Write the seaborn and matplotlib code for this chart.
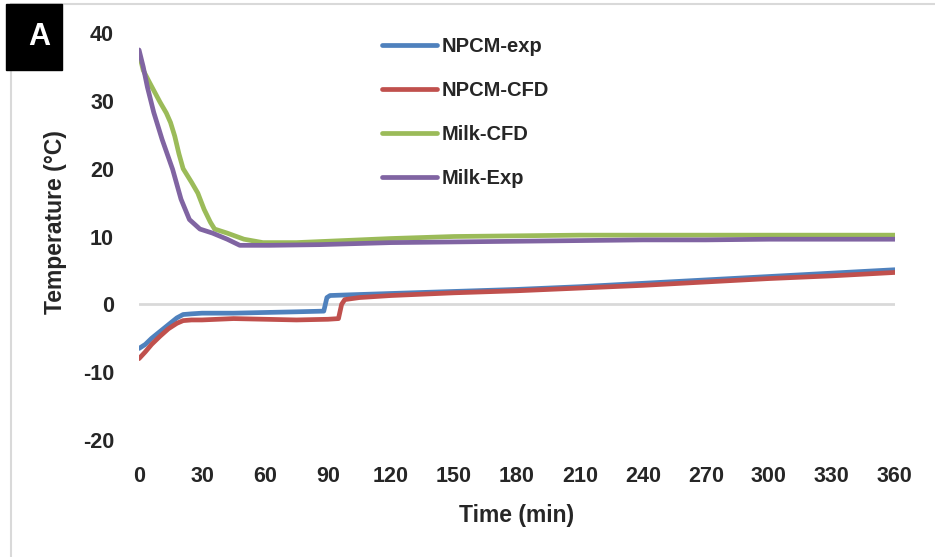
"""
Cooling curves of NPCM and milk: experiment vs CFD
"""

import numpy as np
import pandas as pd
import matplotlib
matplotlib.use("Agg")
import matplotlib.pyplot as plt
from matplotlib.patches import Rectangle
import seaborn as sns

# values (time in min, temperature in degC)
npcm_exp_t = [0, 3, 6, 10, 14, 18, 21, 25, 30, 45, 60, 75, 88, 89.5, 91, 100, 120, 150, 180, 210, 240, 270, 300, 330, 360]
npcm_exp_y = [-6.5, -5.9, -5.0, -4.0, -3.0, -2.0, -1.5, -1.4, -1.3, -1.3, -1.2, -1.1, -1.0, 1.0, 1.3, 1.4, 1.6, 1.9, 2.2, 2.6, 3.1, 3.6, 4.1, 4.6, 5.1]

npcm_cfd_t = [0, 3, 6, 10, 14, 18, 21, 25, 30, 45, 60, 75, 90, 95, 96.5, 98, 105, 120, 150, 180, 210, 240, 270, 300, 330, 360]
npcm_cfd_y = [-8.0, -7.0, -5.9, -4.7, -3.6, -2.8, -2.4, -2.3, -2.3, -2.1, -2.2, -2.3, -2.2, -2.1, 0.0, 0.7, 1.0, 1.3, 1.7, 2.0, 2.4, 2.8, 3.3, 3.8, 4.2, 4.7]

milk_cfd_t = [0, 2, 5, 10, 13, 15, 17, 19, 21, 25, 28, 31, 34, 36, 42, 50, 59, 75, 90, 120, 150, 180, 210, 240, 270, 300, 330, 360]
milk_cfd_y = [37.0, 34.5, 32.7, 29.8, 28.2, 26.8, 24.8, 22.2, 20.0, 18.0, 16.4, 14.0, 12.1, 11.1, 10.5, 9.6, 9.1, 9.1, 9.3, 9.7, 10.0, 10.1, 10.2, 10.2, 10.2, 10.2, 10.2, 10.2]

milk_exp_t = [0, 2, 4, 7, 11, 16, 20, 24, 29, 35, 42, 48, 62, 86, 120, 150, 180, 210, 240, 270, 300, 330, 360]
milk_exp_y = [37.5, 35.0, 32.0, 28.3, 24.3, 19.9, 15.5, 12.5, 11.1, 10.5, 9.6, 8.7, 8.7, 8.8, 9.1, 9.2, 9.3, 9.4, 9.5, 9.5, 9.6, 9.6, 9.6]

series_names = ["NPCM-exp", "NPCM-CFD", "Milk-CFD", "Milk-Exp"]
series_colors = ["#4F81BD", "#C0504D", "#9BBB59", "#8064A2"]

x_ticks = list(range(0, 361, 30))
y_ticks = list(range(-20, 41, 10))


def build_frame():
    parts = []
    for name, t, y in zip(series_names,
                          [npcm_exp_t, npcm_cfd_t, milk_cfd_t, milk_exp_t],
                          [npcm_exp_y, npcm_cfd_y, milk_cfd_y, milk_exp_y]):
        parts.append(pd.DataFrame({"time": t, "temp": y, "series": name}))
    return pd.concat(parts, ignore_index=True)


df = build_frame()

sns.set_theme(style="white")
plt.rcParams["font.family"] = ["Liberation Sans", "DejaVu Sans"]
plt.rcParams["font.weight"] = "bold"
plt.rcParams["axes.unicode_minus"] = False

fig = plt.figure(figsize=(9.35, 5.57), dpi=100)
ax = fig.add_axes([0.1487, 0.21, 0.957 - 0.1487, 0.9408 - 0.21])

# zero line like the Excel horizontal axis
ax.axhline(0, color="#D9D9D9", lw=2, zorder=0)

sns.lineplot(data=df, x="time", y="temp", hue="series", hue_order=series_names,
             palette=series_colors, linewidth=3.4, sort=False, estimator=None,
             ax=ax, legend=True)

ax.set_xlim(0, 360)
ax.set_ylim(-20, 40)
ax.set_xticks(x_ticks)
ax.set_yticks(y_ticks)
ax.tick_params(axis="x", length=0, labelsize=15.5, pad=19)
ax.tick_params(axis="y", length=0, labelsize=15.5, pad=18)
for lab in ax.get_xticklabels() + ax.get_yticklabels():
    lab.set_fontweight("bold")
ax.set_xlabel("Time (min)", fontsize=16.5, fontweight="bold", labelpad=12)
ax.set_ylabel("Temperature (°C)", fontsize=16.5, fontweight="bold")
ax.yaxis.set_label_coords(-0.095, 0.535)
for s in ax.spines.values():
    s.set_visible(False)

leg = ax.legend(loc="upper left", bbox_to_anchor=(0.297, 1.035), frameon=False,
                fontsize=14.5, handlelength=2.75, labelspacing=1.25, handletextpad=0.25)
for txt in leg.get_texts():
    txt.set_fontweight("bold")
for line in leg.get_lines():
    line.set_linewidth(3.4)
    line.set_solid_capstyle("round")

# light chart border and the panel letter
fig.add_artist(plt.Line2D([11 / 935, 11 / 935], [0, 1 - 4 / 557], color="#D9D9D9", lw=1.5))
fig.add_artist(plt.Line2D([11 / 935, 1], [1 - 4 / 557, 1 - 4 / 557], color="#D9D9D9", lw=1.5))
fig.add_artist(Rectangle((6 / 935, 1 - 70 / 557), 56 / 935, 66 / 557,
                         transform=fig.transFigure, color="black", zorder=5))
fig.text(39 / 935, 1 - 37 / 557, "A", color="white", fontsize=22, fontweight="bold",
         ha="center", va="center", zorder=6)

fig.savefig("out.png", dpi=100)
